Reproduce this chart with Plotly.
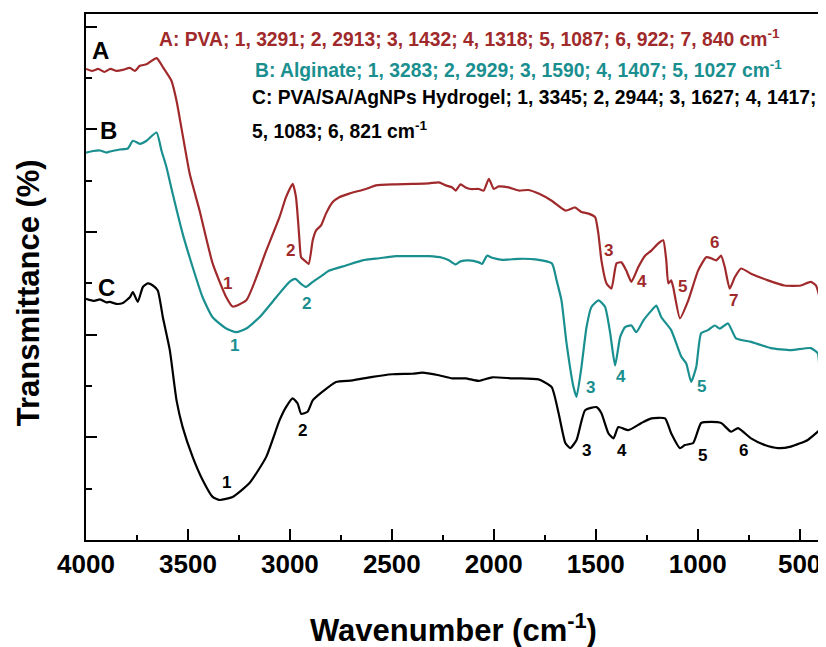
import plotly.graph_objects as go

# ---- data (wavenumber cm-1, transmittance arbitrary offset units) ----
wn_A = [4000, 3970, 3940, 3910, 3880, 3850, 3820, 3785, 3760, 3736,
        3703, 3654, 3622, 3581, 3556, 3524, 3491, 3443, 3379, 3312,
        3281, 3214, 3116, 3051, 3019, 2986, 2970, 2954, 2945, 2929,
        2908, 2888, 2872, 2847, 2823, 2791, 2758, 2709, 2627, 2578,
        2481, 2399, 2318, 2269, 2236, 2204, 2187, 2163, 2138, 2114,
        2073, 2049, 2024, 2000, 1976, 1927, 1878, 1829, 1780, 1716,
        1649, 1601, 1570, 1535, 1503, 1487, 1472, 1447, 1423, 1398,
        1374, 1350, 1325, 1291, 1258, 1227, 1193, 1169, 1154, 1144,
        1130, 1120, 1087, 1046, 998, 958, 934, 909, 885, 867,
        843, 818, 787, 738, 655, 574, 494, 445, 420, 402]
T_A = [91.8, 91.4, 91.8, 91.2, 91.8, 91.4, 91.6, 92.0, 91.4, 92.4,
       92.7, 93.9, 92.1, 89.5, 85.6, 78.5, 71.3, 64.2, 53.9, 47.3,
       45.5, 46.7, 56.4, 62.9, 66.8, 69.4, 66.8, 59.0, 55.1, 54.5,
       53.8, 58.4, 60.3, 61.3, 63.6, 65.8, 66.8, 67.5, 68.4, 69.1,
       69.3, 69.4, 69.5, 69.7, 69.1, 68.7, 68.1, 69.3, 68.7, 68.4,
       68.4, 68.1, 70.4, 68.4, 68.9, 68.7, 68.1, 68.2, 67.5, 66.1,
       64.2, 64.8, 63.9, 63.6, 62.9, 59.7, 54.5, 50.0, 49.0, 53.9,
       54.1, 52.5, 50.3, 53.2, 55.4, 56.4, 57.8, 58.4, 54.5, 50.0,
       50.6, 49.3, 43.2, 46.7, 52.5, 55.1, 54.9, 54.5, 55.4, 53.2,
       49.0, 51.2, 52.9, 51.9, 50.6, 49.6, 49.6, 50.3, 49.6, 47.3]

wn_B = [4000, 3965, 3931, 3900, 3883, 3860, 3834, 3795, 3770, 3736,
        3703, 3654, 3630, 3605, 3575, 3526, 3477, 3428, 3379, 3312,
        3263, 3214, 3149, 3067, 3002, 2973, 2945, 2921, 2888, 2840,
        2807, 2725, 2644, 2562, 2481, 2399, 2318, 2253, 2220, 2187,
        2163, 2122, 2073, 2057, 2033, 2008, 1959, 1878, 1796, 1715,
        1692, 1668, 1643, 1609, 1594, 1570, 1545, 1521, 1486, 1454,
        1429, 1405, 1380, 1356, 1325, 1301, 1266, 1227, 1203, 1178,
        1130, 1080, 1056, 1032, 1007, 983, 949, 916, 891, 851,
        812, 738, 641, 543, 445, 411, 402]
T_B = [75.5, 75.8, 75.9, 75.5, 75.7, 75.9, 76.1, 76.3, 77.8, 77.2,
       77.8, 79.4, 75.9, 72.6, 67.5, 59.7, 53.2, 47.3, 43.4, 41.2,
       40.5, 41.2, 43.4, 47.3, 50.3, 50.9, 49.9, 49.3, 50.3, 51.6,
       52.5, 53.5, 54.5, 54.9, 55.3, 55.3, 55.3, 55.0, 54.5, 53.7,
       54.3, 54.5, 54.1, 53.8, 55.4, 55.0, 54.6, 54.8, 54.7, 53.9,
       50.6, 46.7, 38.3, 29.8, 27.9, 33.7, 41.5, 45.4, 46.7, 45.4,
       40.3, 34.0, 39.6, 41.5, 41.8, 40.5, 42.8, 44.7, 45.7, 43.4,
       40.9, 35.7, 34.4, 30.8, 33.7, 40.3, 40.9, 41.8, 41.2, 42.2,
       39.3, 38.6, 37.4, 37.0, 37.4, 36.4, 32.5]

wn_C = [4000, 3960, 3931, 3900, 3883, 3850, 3819, 3785, 3770, 3746,
        3721, 3697, 3672, 3648, 3623, 3589, 3556, 3526, 3477, 3428,
        3379, 3345, 3281, 3198, 3116, 3051, 3019, 2986, 2962, 2945,
        2913, 2888, 2840, 2774, 2693, 2595, 2497, 2399, 2351, 2269,
        2204, 2138, 2073, 2008, 1910, 1878, 1780, 1716, 1682, 1649,
        1625, 1594, 1552, 1496, 1472, 1438, 1413, 1389, 1340, 1276,
        1227, 1160, 1130, 1087, 1063, 1022, 983, 934, 885, 836,
        802, 738, 671, 606, 543, 460, 402]
T_C = [47.0, 46.6, 46.9, 46.3, 46.4, 46.0, 46.2, 47.3, 48.3, 46.4,
       49.3, 50.0, 49.6, 48.6, 43.4, 37.0, 27.2, 22.0, 16.2, 11.7,
       8.4, 7.8, 8.4, 11.1, 16.2, 23.3, 25.9, 27.6, 26.6, 24.6,
       25.0, 27.2, 28.9, 30.8, 31.1, 31.8, 32.3, 32.4, 32.6, 32.1,
       31.5, 31.5, 31.0, 31.7, 31.5, 31.5, 31.3, 29.8, 24.7, 18.9,
       17.9, 19.5, 25.3, 25.9, 24.7, 20.8, 19.8, 22.0, 21.4, 22.8,
       23.7, 23.7, 20.8, 17.9, 18.5, 18.9, 22.8, 23.0, 22.8, 21.1,
       21.8, 19.8, 18.5, 17.9, 18.2, 19.5, 21.4]

x_ticks = [4000, 3500, 3000, 2500, 2000, 1500, 1000, 500]

# peak number labels: (wavenumber, value, text)
labels_A = [(3304, 49.9, "1"), (2999, 56.4, "2"), (1438, 56.4, "3"), (1271, 50.3, "4"),
            (1076, 49.4, "5"), (916, 58.0, "6"), (822, 46.7, "7")]
labels_B = [(3271, 37.9, "1"), (2918, 46.1, "2"), (1526, 29.8, "3"), (1374, 31.8, "4"),
            (983, 30.0, "5")]
labels_C = [(3312, 11.3, "1"), (2937, 21.4, "2"), (1545, 17.5, "3"), (1369, 17.5, "4"),
            (978, 16.5, "5"), (774, 17.5, "6")]

RED = "#A02A2B"
TEAL = "#1A8F8F"
BLACK = "#000000"
FONT = "Liberation Sans, Arial, sans-serif"

fig = go.Figure()
for wn, T, col in [(wn_A, T_A, RED), (wn_B, T_B, TEAL), (wn_C, T_C, BLACK)]:
    fig.add_trace(go.Scatter(x=wn, y=T, mode="lines",
                             line=dict(color=col, width=2.2, shape="spline", smoothing=0.5),
                             showlegend=False))

ann = []
for labs, col in [(labels_A, RED), (labels_B, TEAL), (labels_C, BLACK)]:
    for x, y, t in labs:
        ann.append(dict(x=x, y=y, text=t, showarrow=False, xref="x", yref="y",
                        font=dict(family=FONT, size=17, color=col, weight="bold")))

for x, y, t in [(3928, 95.3, "A"), (3888, 79.8, "B"), (3899, 49.3, "C")]:
    ann.append(dict(x=x, y=y, text=t, showarrow=False, xref="x", yref="y",
                    font=dict(family=FONT, size=24, color=BLACK, weight="bold")))

text_lines = [
    (3653, 97.9, "A: PVA; 1, 3291; 2, 2913; 3, 1432; 4, 1318; 5, 1087; 6, 922; 7, 840 cm<sup>-1</sup>", RED),
    (3183, 91.8, "B: Alginate; 1, 3283; 2, 2929; 3, 1590; 4, 1407; 5, 1027 cm<sup>-1</sup>", TEAL),
    (3198, 86.2, "C: PVA/SA/AgNPs Hydrogel; 1, 3345; 2, 2944; 3, 1627; 4, 1417;", BLACK),
    (3198, 79.8, "5, 1083; 6, 821 cm<sup>-1</sup>", BLACK),
]
for x, y, t, col in text_lines:
    ann.append(dict(x=x, y=y, text=t, showarrow=False, xref="x", yref="y",
                    xanchor="left", yanchor="middle",
                    font=dict(family=FONT, size=19.3, color=col, weight="bold")))

ann.append(dict(x=-0.079, y=0.469, xref="paper", yref="paper", text="Transmittance (%)",
                textangle=-90, showarrow=False, xanchor="center", yanchor="middle",
                font=dict(family=FONT, size=31, color=BLACK, weight="bold")))
ann.append(dict(x=0.5, y=-0.168, xref="paper", yref="paper", text="Wavenumber (cm<sup>-1</sup>)",
                showarrow=False, xanchor="center", yanchor="middle",
                font=dict(family=FONT, size=31, color=BLACK, weight="bold")))

# page body has an 8px margin, so the figure is 8px smaller and margins shifted
fig.update_layout(
    width=818, height=639,
    margin=dict(l=78, r=4, t=5, b=107),
    plot_bgcolor="white", paper_bgcolor="white",
    font=dict(family=FONT, color=BLACK),
    annotations=ann,
    xaxis=dict(range=[4000, 400], tickvals=x_ticks, ticktext=[str(v) for v in x_ticks],
               ticks="inside", ticklen=11, tickwidth=2, tickcolor=BLACK,
               minor=dict(ticks="inside", ticklen=5, tickwidth=2, dtick=250, tick0=0, tickcolor=BLACK),
               showline=True, linecolor=BLACK, linewidth=2, mirror=True,
               showgrid=False, zeroline=False,
               tickfont=dict(family=FONT, size=26, color=BLACK, weight="bold")),
    yaxis=dict(range=[0, 102.5], tickvals=[0, 20, 40, 60, 80, 100],
               ticks="inside", ticklen=11, tickwidth=2, tickcolor=BLACK,
               minor=dict(ticks="inside", ticklen=6, tickwidth=2, dtick=10, tick0=0, tickcolor=BLACK),
               showticklabels=False,
               showline=True, linecolor=BLACK, linewidth=2, mirror=True,
               showgrid=False, zeroline=False),
)

fig.write_html("out.html")
